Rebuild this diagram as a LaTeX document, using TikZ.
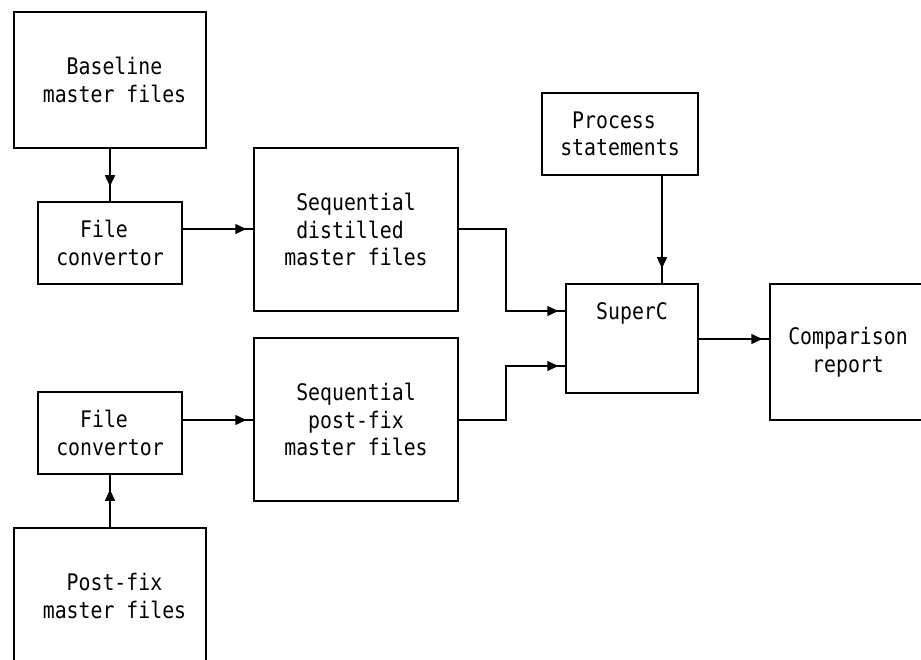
\documentclass[tikz,border=0pt]{standalone}
\usepackage{fontspec}
\newfontfamily\boxfont[FakeStretch=0.87]{DejaVu Sans Mono}
\usetikzlibrary{arrows.meta,decorations.markings,calc}
\tikzset{
  blk/.style={draw, line width=1.5pt, inner sep=0pt, align=left,
    font=\boxfont\fontsize{22.8}{27.5}\selectfont},
  conn/.style={line width=1.5pt},
  tipat/.style={postaction={decorate}, decoration={markings,
    mark=at position -#1 with {\arrow{Triangle[length=11pt,width=10pt]}}}}
}
\newcommand{\chsp}[1]{\phantom{#1}}
\newcommand{\ind}{\hspace*{9pt}}
\begin{document}
\begin{tikzpicture}[x=1pt,y=-1pt]
\clip (0,0) rectangle (921,660);
\fill[white] (0,0) rectangle (921,660);
% boxes
\node[blk, minimum width=192pt, minimum height=136pt] (base) at (110,80) {\ind\chsp{xx}Baseline\\\ind master files};
\node[blk, minimum width=144pt, minimum height=82pt] (fc1) at (110,243) {\chsp{xx}File\\convertor};
\node[blk, minimum width=204pt, minimum height=163pt] (seq1) at (356,229.5) {\chsp{x}Sequential\\\chsp{x}distilled\\master files};
\node[blk, minimum width=156pt, minimum height=82pt] (proc) at (620,134) {\chsp{x}Process\\statements};
\node[blk, minimum width=132pt, minimum height=109pt] (sup) at (632,338.5) {SuperC\\\mbox{}\\\mbox{}};
\node[blk, minimum width=156pt, minimum height=136pt] (comp) at (848,352) {Comparison\\\chsp{xx}report};
\node[blk, minimum width=204pt, minimum height=163pt] (seq2) at (356,419.5) {\chsp{x}Sequential\\\chsp{xx}post-fix\\master files};
\node[blk, minimum width=144pt, minimum height=82pt] (fc2) at (110,433) {\chsp{xx}File\\convertor};
\node[blk, minimum width=192pt, minimum height=136pt] (post) at (110,596) {\ind\chsp{xx}Post-fix\\\ind master files};
% junction / level coordinates
\coordinate (j1) at (506,311);
\coordinate (j2) at (506,366);
\coordinate (j3) at (662,0);
\coordinate (h1) at (0,229);
\coordinate (h2) at (0,420);
\coordinate (h3) at (0,339);
% connectors
\draw[conn, tipat=15pt] (base.south) -- (fc1.north);
\draw[conn, tipat=7pt] (fc1.east |- h1) -- (seq1.west |- h1);
\draw[conn, tipat=7pt] (seq1.east |- h1) -| (j1) -- (sup.west |- j1);
\draw[conn, tipat=15pt] (proc.south -| j3) -- (sup.north -| j3);
\draw[conn, tipat=7pt] (sup.east |- h3) -- (comp.west |- h3);
\draw[conn, tipat=7pt] (fc2.east |- h2) -- (seq2.west |- h2);
\draw[conn, tipat=7pt] (seq2.east |- h2) -| (j2) -- (sup.west |- j2);
\draw[conn, tipat=15pt] (post.north) -- (fc2.south);
\end{tikzpicture}
\end{document}
